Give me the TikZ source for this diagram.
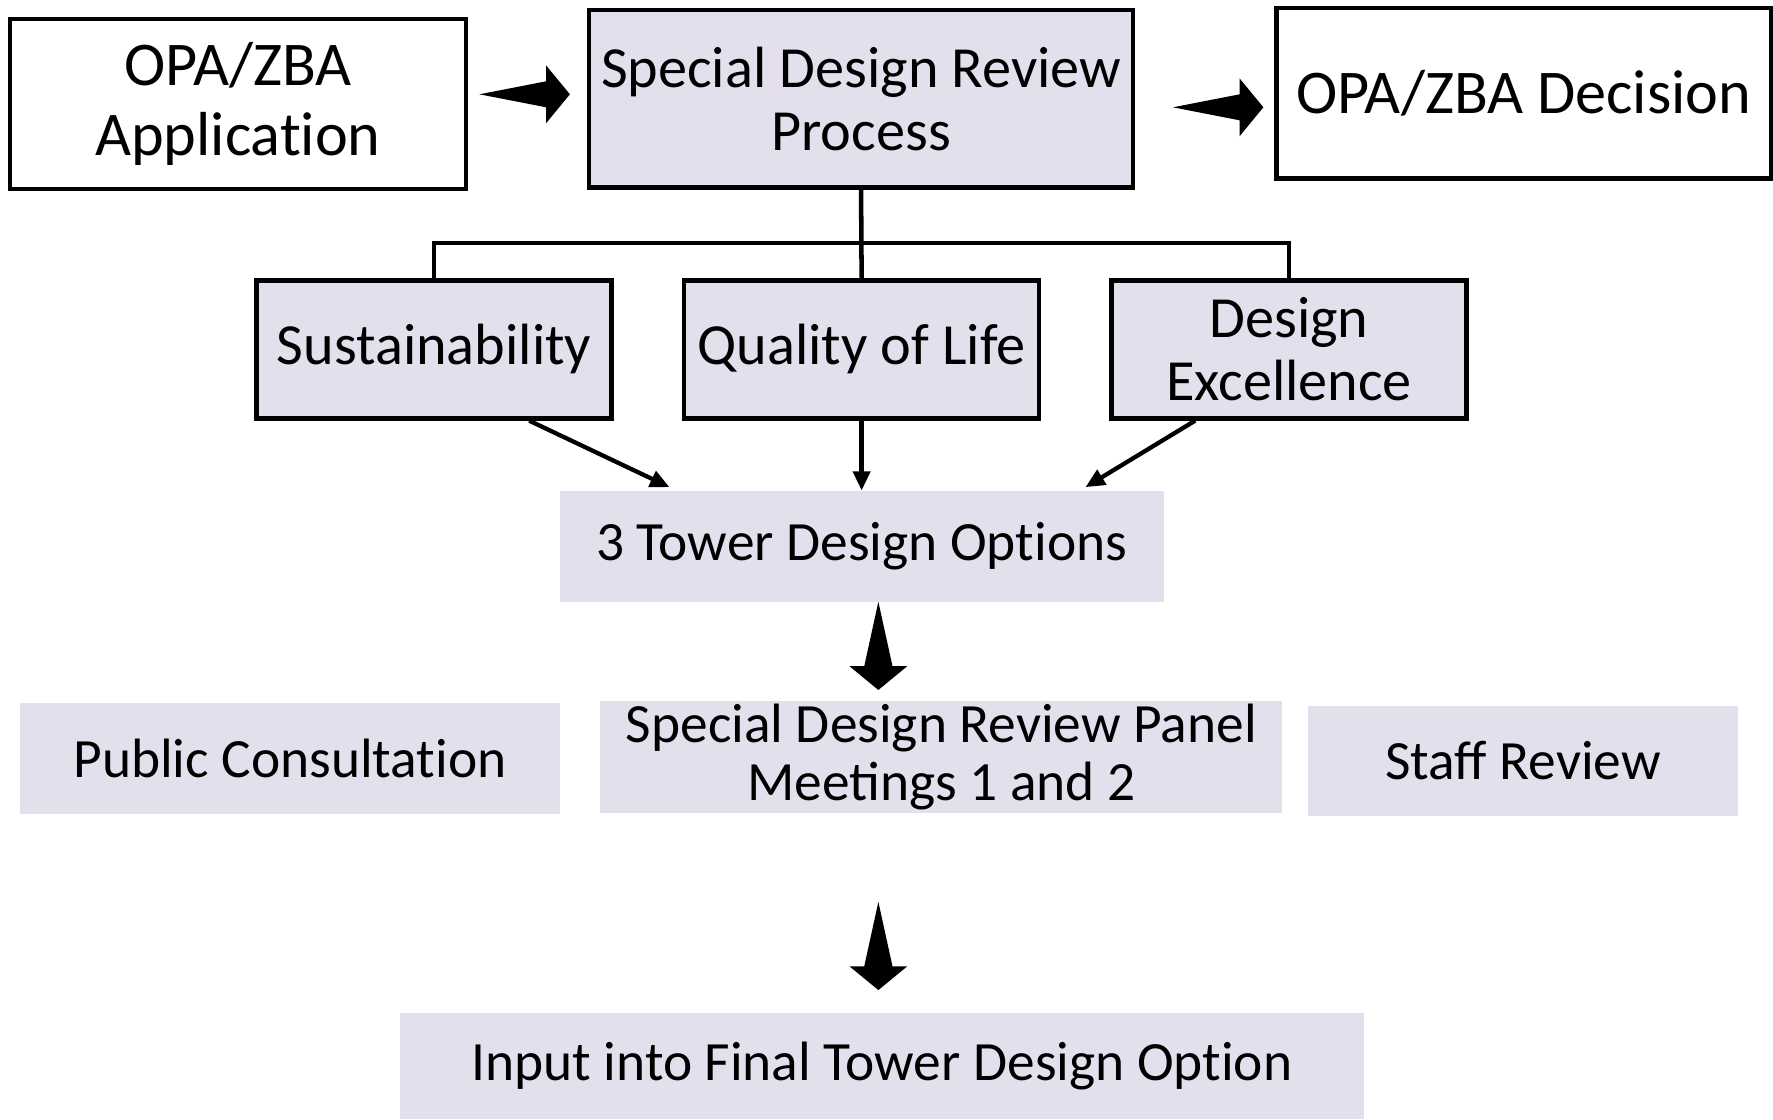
\documentclass[tikz,border=0pt]{standalone}
\usepackage{fontspec}
\setmainfont{Carlito}
\usetikzlibrary{arrows.meta,calc}
\definecolor{lav}{HTML}{E4DFEC}
\newcommand{\tI}{t\kern0pt i}
\begin{document}
\begin{tikzpicture}[x=1pt,y=-1pt,
  box/.style={draw=black, line width=4pt, align=center, inner sep=0pt, anchor=center},
  plain/.style={draw=none, align=center, inner sep=0pt, anchor=center, fill=lav},
  bigf/.style={font=\fontsize{55}{62}\selectfont},
  midf/.style={font=\fontsize{51.5}{56}\selectfont},
  smf/.style={font=\fontsize{49}{52}\selectfont},
  link/.style={line width=4pt},
  thinarrow/.style={line width=3.8pt, -{Triangle[length=17pt,width=15pt]}},
  rblock/.pic={\fill[black] (-80,0) -- (-21,-11.5) -- (-21,-25.5) -- (0,0) -- (-21,25.5) -- (-21,11.5) -- cycle;},
  dblock/.pic={\fill[black] (0,-78) -- (12.5,-21) -- (25.5,-21) -- (0,0) -- (-25.5,-21) -- (-12.5,-21) -- cycle;}
]
\useasboundingbox (0,0) rectangle (1568,990);

\node[box, bigf, fill=white, minimum width=403pt, minimum height=150pt] (A) at (210.5,92) {OPA/ZBA\\Applica\tI on};
\node[box, midf, fill=lav, minimum width=481pt, minimum height=157pt] (B) at (761.5,87.5) {Special Design Review\\Process};
\node[box, bigf, fill=white, minimum width=437pt, minimum height=151pt] (C) at (1347.5,82.5) {OPA/ZBA Decision};

\node[box, midf, fill=lav, minimum width=314pt, minimum height=122pt] (D) at (384,309) {Sustainability};
\node[box, midf, fill=lav, minimum width=314pt, minimum height=122pt] (E) at (762,309) {Quality of Life};
\node[box, midf, fill=lav, minimum width=314pt, minimum height=122pt] (F) at (1140,309) {Design\\Excellence};

\node[plain, smf, minimum width=534pt, minimum height=98pt] (G) at (762,483) {3 Tower Design Op\tI ons};

\node[plain, smf, minimum width=477pt, minimum height=98pt] (H) at (256.5,671) {Public Consulta\tI on};
\node[plain, smf, minimum width=603pt, minimum height=99pt] (I) at (832.5,669.5) {Special Design Review Panel\\Meetings 1 and 2};
\node[plain, smf, minimum width=380pt, minimum height=98pt] (J) at (1347,673) {Staff Review};

\node[plain, smf, minimum width=852pt, minimum height=94pt] (K) at (780,943) {Input into Final Tower Design Op\tI on};

% tree connector
\coordinate (bus) at (762,215);
\draw[link] (B.south) -- (E.north);
\draw[link] (D.north) |- (bus) -| (F.north);

% thin arrows
\draw[thinarrow] ([xshift=84pt]D.south) -- ([xshift=-170pt,yshift=3pt]G.north);
\draw[thinarrow] (E.south) -- (G.north);
\draw[thinarrow] ([xshift=-83pt]F.south) -- ([xshift=198pt,yshift=3pt]G.north);

% block arrows
\pic at (504,83.4) {rblock};
\pic at (1117.3,94.9) {rblock};
\pic at (776.8,610.2) {dblock};
\pic at (776.8,875.6) {dblock};
\end{tikzpicture}
\end{document}
